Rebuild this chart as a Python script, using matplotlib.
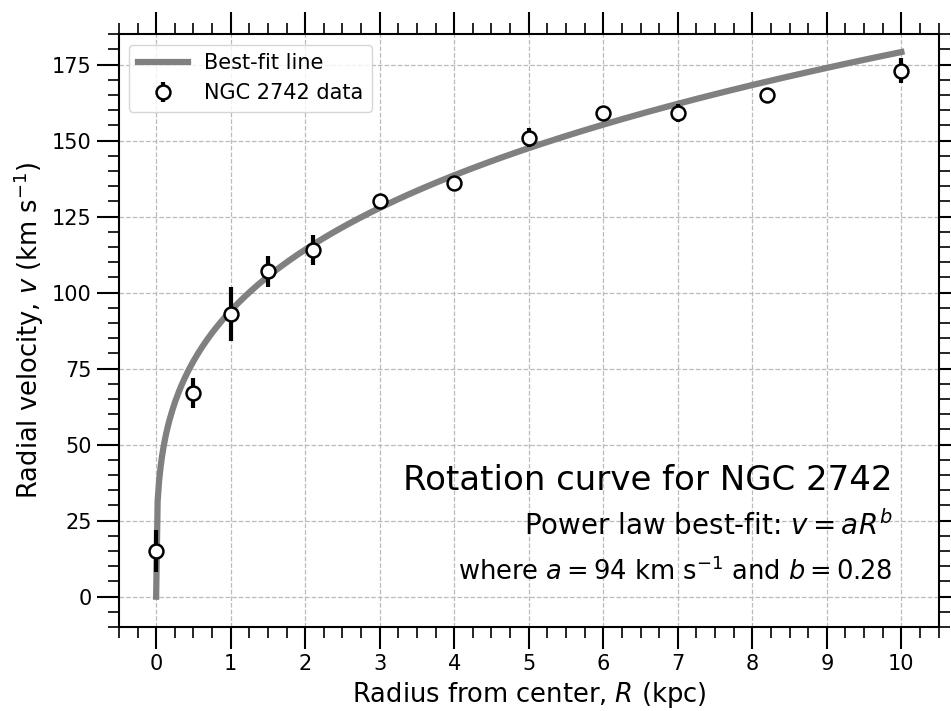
import numpy as np
import matplotlib
matplotlib.use('Agg')
from matplotlib import pyplot as plt
from matplotlib.ticker import MultipleLocator

# NGC 2742 data
radius = [0, 0.5, 1, 1.5, 2.1, 3, 4, 5, 6, 7, 8.2, 10]
velocity = [15, 67, 93, 107, 114, 130, 136, 151, 159, 159, 165, 173]
vel_err = [7, 5, 9, 5, 5, 1.5, 1.5, 3, 1.5, 3, 1.5, 4]

# power law best-fit parameters
a = 94
b = 0.28

fig, ax = plt.subplots(figsize=(9.51, 7.11), dpi=100)

rfit = np.linspace(0, 10, 500)
ax.plot(rfit, a * rfit**b, color='gray', lw=4.5, label='Best-fit line', zorder=2)
ax.errorbar(radius, velocity, yerr=vel_err, fmt='o', color='black', ecolor='black',
            elinewidth=3, capsize=0, markersize=10, markerfacecolor='white',
            markeredgecolor='black', markeredgewidth=1.8, label='NGC 2742 data', zorder=3)

ax.set_xlim(-0.5, 10.5)
ax.set_ylim(-10, 185)
ax.xaxis.set_major_locator(MultipleLocator(1))
ax.xaxis.set_minor_locator(MultipleLocator(0.25))
ax.yaxis.set_major_locator(MultipleLocator(25))
ax.yaxis.set_minor_locator(MultipleLocator(5))
ax.tick_params(which='both', direction='out', top=True, right=True, labelsize=15)
ax.tick_params(which='major', length=16, width=1.5)
ax.tick_params(which='minor', length=8, width=1.2)
for s in ax.spines.values():
    s.set_linewidth(1.5)

ax.grid(True, which='major', ls='--', color='#bbbbbb', lw=0.9)
ax.set_axisbelow(True)

ax.set_xlabel('Radius from center, $R$ (kpc)', fontsize=18.5)
ax.set_ylabel('Radial velocity, $v$ (km s$^{-1}$)', fontsize=18.5)

ax.legend(loc='upper left', fontsize=15, framealpha=0.8, handlelength=2.4)

ax.text(0.944, 0.231, 'Rotation curve for NGC 2742', transform=ax.transAxes,
        ha='right', va='baseline', fontsize=24.5)
ax.text(0.944, 0.155, 'Power law best-fit: $v = aR^b$', transform=ax.transAxes,
        ha='right', va='baseline', fontsize=20)
ax.text(0.944, 0.079, 'where $a = 94$ km s$^{-1}$ and $b = 0.28$', transform=ax.transAxes,
        ha='right', va='baseline', fontsize=18.5)

fig.subplots_adjust(left=0.125, right=0.987, top=0.952, bottom=0.118)
fig.savefig('out.png', dpi=100)
